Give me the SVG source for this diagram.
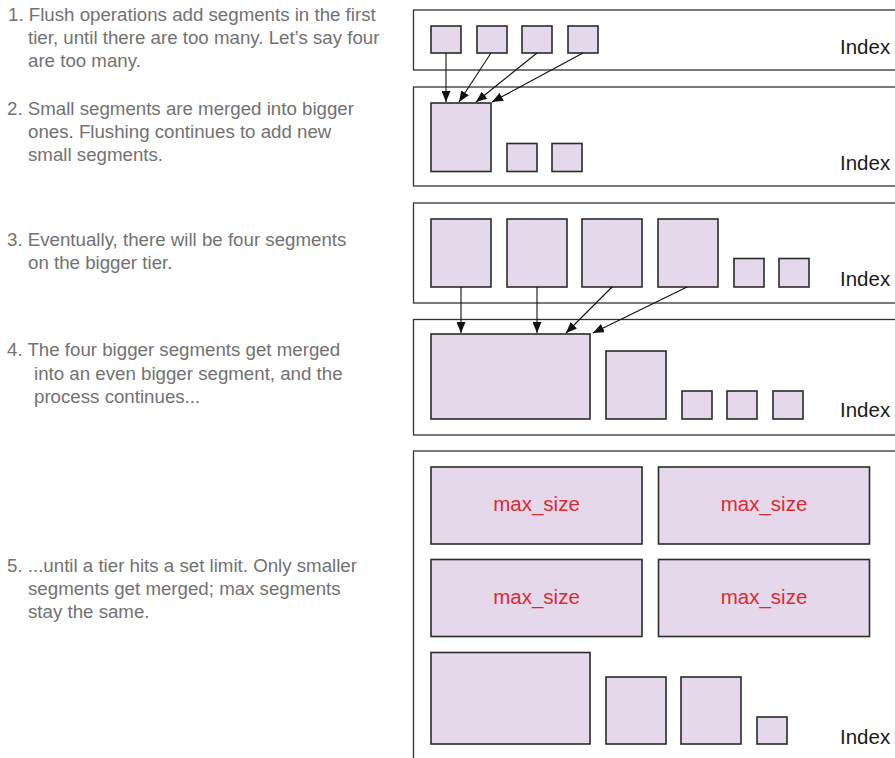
<svg xmlns="http://www.w3.org/2000/svg" width="895" height="758" viewBox="0 0 895 758">
<style>
.note{font-family:"Liberation Sans",Arial,sans-serif;font-size:18.7px;fill:#727272}
.tier{fill:#fff;stroke:#333;stroke-width:1.3}
.seg{fill:#e5d8ea;stroke:#2b2b2b;stroke-width:1.6}
.idx{font-family:"Liberation Sans",Arial,sans-serif;font-size:20.5px;fill:#1a1a1a}
.max{font-family:"Liberation Sans",Arial,sans-serif;font-size:20.5px;fill:#d92b33;text-anchor:middle}
.conn{stroke:#111;stroke-width:1.1;fill:none;marker-end:url(#ah)}
</style>
<defs>
<marker id="ah" markerUnits="userSpaceOnUse" markerWidth="11" markerHeight="9" refX="11" refY="4.5" orient="auto">
<path d="M0,0 L11,4.5 L0,9 z" fill="#111"/>
</marker>
</defs>
<rect width="895" height="758" fill="#fff"/>

<g id="notes">
<text class="note" x="8" y="21">1. Flush operations add segments in the first</text>
<text class="note" x="28" y="44">tier, until there are too many. Let’s say four</text>
<text class="note" x="28" y="67">are too many.</text>
<text class="note" x="7" y="115">2. Small segments are merged into bigger</text>
<text class="note" x="28" y="138">ones. Flushing continues to add new</text>
<text class="note" x="28" y="161">small segments.</text>
<text class="note" x="7" y="246">3. Eventually, there will be four segments</text>
<text class="note" x="28" y="269">on the bigger tier.</text>
<text class="note" x="7" y="356">4. The four bigger segments get merged</text>
<text class="note" x="34" y="380">into an even bigger segment, and the</text>
<text class="note" x="34" y="403">process continues...</text>
<text class="note" x="7" y="572">5. ...until a tier hits a set limit. Only smaller</text>
<text class="note" x="28" y="595">segments get merged; max segments</text>
<text class="note" x="28" y="618">stay the same.</text>
</g>

<g id="tier1">
<rect class="tier" x="413.5" y="10" width="490" height="60"/>
<rect class="seg" x="431" y="26" width="30" height="27"/>
<rect class="seg" x="477" y="26" width="30" height="27"/>
<rect class="seg" x="522" y="26" width="30" height="27"/>
<rect class="seg" x="568" y="26" width="30" height="27"/>
<text class="idx" x="840" y="54">Index</text>
</g>

<g id="tier2">
<rect class="tier" x="413.5" y="87" width="490" height="99"/>
<rect class="seg" x="431" y="103" width="60" height="68.5"/>
<rect class="seg" x="507" y="143.5" width="30" height="28"/>
<rect class="seg" x="552" y="143.5" width="30" height="28"/>
<text class="idx" x="840" y="170">Index</text>
</g>

<g id="tier3">
<rect class="tier" x="413.5" y="203" width="490" height="100"/>
<rect class="seg" x="431" y="219" width="60" height="68"/>
<rect class="seg" x="507" y="219" width="60" height="68"/>
<rect class="seg" x="582" y="219" width="60" height="68"/>
<rect class="seg" x="658" y="219" width="60" height="68"/>
<rect class="seg" x="734" y="258.5" width="30" height="28.5"/>
<rect class="seg" x="779" y="258.5" width="30" height="28.5"/>
<text class="idx" x="840" y="286">Index</text>
</g>

<g id="tier4">
<rect class="tier" x="413.5" y="319.5" width="490" height="115.5"/>
<rect class="seg" x="431" y="334" width="159" height="85"/>
<rect class="seg" x="606" y="351" width="60" height="68"/>
<rect class="seg" x="682" y="391" width="30" height="28"/>
<rect class="seg" x="727" y="391" width="30" height="28"/>
<rect class="seg" x="773" y="391" width="30" height="28"/>
<text class="idx" x="840" y="417">Index</text>
</g>

<g id="tier5">
<rect class="tier" x="413.5" y="451" width="490" height="320"/>
<rect class="seg" x="431" y="467" width="211" height="77"/>
<text class="max" x="536.5" y="511">max_size</text>
<rect class="seg" x="658.5" y="467" width="211" height="77"/>
<text class="max" x="764" y="511">max_size</text>
<rect class="seg" x="431" y="559.5" width="211" height="77"/>
<text class="max" x="536.5" y="604">max_size</text>
<rect class="seg" x="658.5" y="559.5" width="211" height="77"/>
<text class="max" x="764" y="604">max_size</text>
<rect class="seg" x="431" y="652.5" width="159" height="91.5"/>
<rect class="seg" x="606" y="677" width="60" height="67"/>
<rect class="seg" x="681" y="677" width="60" height="67"/>
<rect class="seg" x="757" y="717" width="30" height="27"/>
<text class="idx" x="840" y="744">Index</text>
</g>

<g id="connectors">
<line class="conn" x1="446" y1="53" x2="446" y2="102"/>
<line class="conn" x1="491" y1="53" x2="459" y2="102"/>
<line class="conn" x1="537" y1="53" x2="476" y2="102"/>
<line class="conn" x1="583" y1="53" x2="492" y2="102"/>
<line class="conn" x1="461" y1="287" x2="461" y2="333"/>
<line class="conn" x1="537" y1="287" x2="537" y2="333"/>
<line class="conn" x1="612" y1="287" x2="566" y2="333"/>
<line class="conn" x1="687" y1="287" x2="593" y2="333"/>
</g>
</svg>
